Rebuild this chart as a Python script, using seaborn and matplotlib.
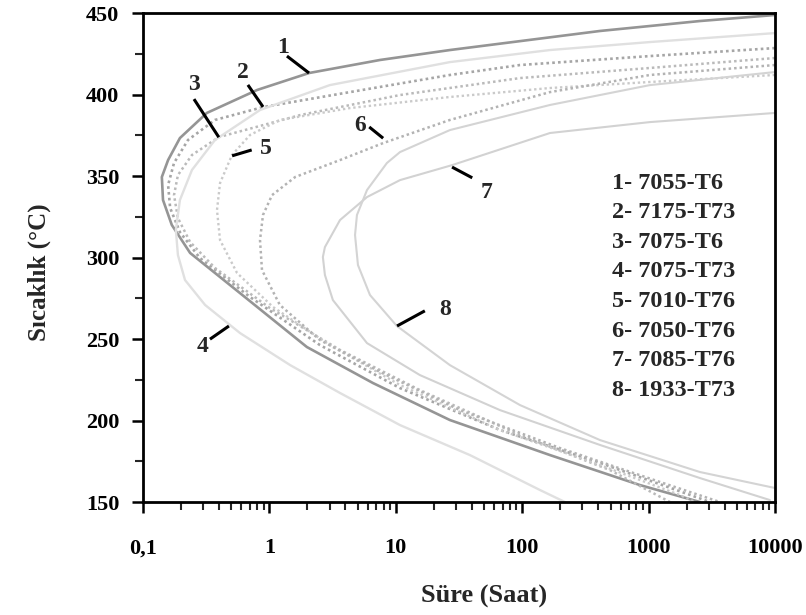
import numpy as np
import pandas as pd
import matplotlib
matplotlib.use("Agg")
import matplotlib.pyplot as plt
import matplotlib.ticker as mticker
import seaborn as sns

# ---------------- data ----------------
curve_ids = ["1", "2", "3", "4", "5", "6", "7", "8"]
legend_labels = ["1- 7055-T6", "2- 7175-T73", "3- 7075-T6", "4- 7075-T73",
                 "5- 7010-T76", "6- 7050-T76", "7- 7085-T76", "8- 1933-T73"]

t1 = [10000, 2550, 413, 26.8, 7.5, 2.06, 0.80, 0.32, 0.196, 0.158, 0.141, 0.144, 0.169, 0.236, 0.585, 1.98, 6.6, 26.8, 166, 855, 2550]
T1 = [448.8, 445.1, 439.0, 427.3, 421.2, 413.2, 402.8, 388.7, 373.3, 359.8, 349.4, 335.3, 320.0, 302.8, 278.2, 245.1, 223.0, 200.3, 178.8, 160.4, 150]

t2 = [10000, 1026, 96, 26.8, 4.34, 0.89, 0.371, 0.227, 0.176, 0.158, 0.164, 0.196, 0.282, 0.703, 2.51, 10.8, 66.7, 413, 3060]
T2 = [428.5, 423.6, 418.1, 412.0, 401.5, 392.3, 384.4, 372.1, 358.0, 344.5, 330.4, 315.6, 299.7, 275.8, 246.3, 219.9, 194.2, 174.0, 150]

t3 = [10000, 1026, 96, 10.8, 1.75, 0.399, 0.244, 0.189, 0.176, 0.189, 0.236, 0.371, 1.01, 3.62, 15.5, 96, 495, 1476]
T3 = [422.4, 416.3, 410.1, 399.7, 387.4, 373.9, 362.9, 350.6, 338.3, 324.2, 309.5, 293.6, 269.0, 243.3, 218.7, 191.1, 169.6, 150]

t4 = [10000, 1026, 166, 26.8, 3.01, 0.843, 0.371, 0.244, 0.196, 0.182, 0.189, 0.215, 0.31, 0.585, 1.46, 3.62, 10.8, 38.6, 138, 218]
T4 = [437.7, 432.2, 427.3, 419.9, 405.8, 390.5, 372.1, 353.7, 335.3, 316.9, 301.5, 286.2, 270.9, 253.7, 234.0, 216.9, 197.2, 178.8, 157.4, 150]

t5 = [10000, 1026, 166, 26.8, 4.34, 1.21, 0.703, 0.506, 0.407, 0.385, 0.407, 0.555, 1.07, 3.01, 10.8, 66.7, 413, 1770, 2330]
T5 = [412.0, 407.7, 404.0, 398.5, 391.7, 384.4, 375.2, 362.9, 345.7, 329.1, 310.7, 290.5, 269.6, 246.3, 221.8, 194.2, 172.7, 154.3, 150]

t6 = [10000, 1026, 166, 26.8, 7.93, 3.62, 1.60, 1.05, 0.89, 0.843, 0.874, 1.21, 2.51, 7.5, 32.2, 199, 1231, 3670]
T6 = [418.1, 412.0, 401.5, 384.4, 370.2, 359.8, 349.4, 338.3, 326.1, 310.7, 292.3, 270.9, 249.4, 229.8, 206.4, 183.1, 162.3, 150]

t7 = [10000, 1026, 166, 27.9, 10.8, 5.92, 3.62, 2.75, 2.65, 2.75, 3.18, 5.92, 15.5, 66.7, 413, 2550, 9120]
T7 = [388.7, 383.1, 376.4, 356.7, 347.5, 337.1, 323.0, 306.4, 300.3, 289.3, 273.9, 247.5, 227.9, 206.4, 185.0, 164.7, 151.2]

t8 = [10000, 1026, 166, 26.8, 10.8, 8.51, 5.92, 4.93, 4.76, 5.02, 6.25, 10.2, 26.8, 96, 413, 2550, 10000]
T8 = [413.8, 405.8, 393.6, 378.2, 364.7, 358.0, 341.4, 326.1, 313.8, 295.4, 277.0, 258.0, 234.0, 209.5, 188.0, 168.4, 158.6]

x_tick_values = [0.1, 1, 10, 100, 1000, 10000]
x_tick_labels = ["0,1", "1", "10", "100", "1000", "10000"]
y_tick_values = [150, 200, 250, 300, 350, 400, 450]

times = [t1, t2, t3, t4, t5, t6, t7, t8]
temps = [T1, T2, T3, T4, T5, T6, T7, T8]

# ---------------- style ----------------
sns.set_style("ticks")
plt.rcParams["font.family"] = ["Liberation Serif", "DejaVu Serif"]
plt.rcParams["font.weight"] = "bold"

dotted = (0, (1, 1.2))
colors = ["#959595", "#a6a6a6", "#bababa", "#e0e0e0", "#cacaca", "#b3b3b3", "#d2d2d2", "#d4d4d4"]
styles = ["-", dotted, dotted, "-", dotted, dotted, "-", "-"]
widths = [1.9, 1.9, 1.8, 1.7, 1.7, 1.8, 1.5, 1.5]

fig = plt.figure(figsize=(8.06, 6.15), dpi=100)
ax = fig.add_axes([0.1774, 0.1837, 0.7841, 0.7951])

for i, cid in enumerate(curve_ids):
    df = pd.DataFrame({"time": times[i], "temp": temps[i]})
    sns.lineplot(data=df, x="time", y="temp", sort=False, estimator=None,
                 color=colors[i], linestyle=styles[i], linewidth=widths[i], ax=ax)
for ln in ax.get_lines():
    ln.set_solid_joinstyle("round")
    ln.set_dash_joinstyle("round")

ax.set_xscale("log")
ax.set_xlim(0.1, 10000)
ax.set_ylim(150, 450)

ax.xaxis.set_major_locator(mticker.FixedLocator(x_tick_values))
ax.xaxis.set_major_formatter(mticker.FixedFormatter(x_tick_labels))
ax.xaxis.set_minor_locator(mticker.LogLocator(base=10, subs=np.arange(2, 10)))
ax.xaxis.set_minor_formatter(mticker.NullFormatter())
ax.yaxis.set_major_locator(mticker.FixedLocator(y_tick_values))
ax.yaxis.set_minor_locator(mticker.MultipleLocator(25))

ax.tick_params(axis="both", which="major", direction="out", length=8, width=1.8,
               labelsize=16, colors="black")
ax.tick_params(axis="both", which="minor", direction="out", length=6, width=1.5)
ax.tick_params(axis="x", which="major", pad=18)
ax.tick_params(axis="y", which="major", pad=9)
for lab in ax.get_xticklabels() + ax.get_yticklabels():
    lab.set_fontweight("bold")

for sp in ax.spines.values():
    sp.set_linewidth(2.0)
    sp.set_color("black")

ax.set_xlabel("Süre (Saat)", fontsize=19, fontweight="bold")
ax.set_ylabel("Sıcaklık (°C)", fontsize=18, fontweight="bold")
ax.xaxis.set_label_coords(0.54, -0.17)
ax.yaxis.set_label_coords(-0.145, 0.47)

# curve number labels with leader lines (axes fraction coordinates)
leaders = {
    "1": ((0.2215, 0.9305), (0.2278, 0.912), (0.2627, 0.8773)),
    "2": ((0.158, 0.879), (0.166, 0.853), (0.190, 0.808)),
    "3": ((0.0807, 0.853), (0.0807, 0.824), (0.120, 0.746)),
    "4": ((0.095, 0.319), (0.106, 0.333), (0.136, 0.360)),
    "5": ((0.194, 0.722), (0.141, 0.708), (0.172, 0.720)),
    "6": ((0.343, 0.769), (0.358, 0.767), (0.380, 0.744)),
    "7": ((0.544, 0.634), (0.489, 0.685), (0.521, 0.663)),
    "8": ((0.478, 0.393), (0.402, 0.360), (0.446, 0.391)),
}
for cid in curve_ids:
    (tx, ty), (x0, y0), (x1, y1) = leaders[cid]
    ax.plot([x0, x1], [y0, y1], transform=ax.transAxes, color="black", lw=2.2,
            solid_capstyle="butt")
    ax.text(tx, ty, cid, transform=ax.transAxes, fontsize=17, fontweight="bold",
            ha="center", va="center")

# legend text block
for i, lab in enumerate(legend_labels):
    ax.text(0.742, 0.652 - i * 0.0605, lab, transform=ax.transAxes, fontsize=17.5,
            fontweight="bold", ha="left", va="center")

fig.savefig("out.png", dpi=100)
